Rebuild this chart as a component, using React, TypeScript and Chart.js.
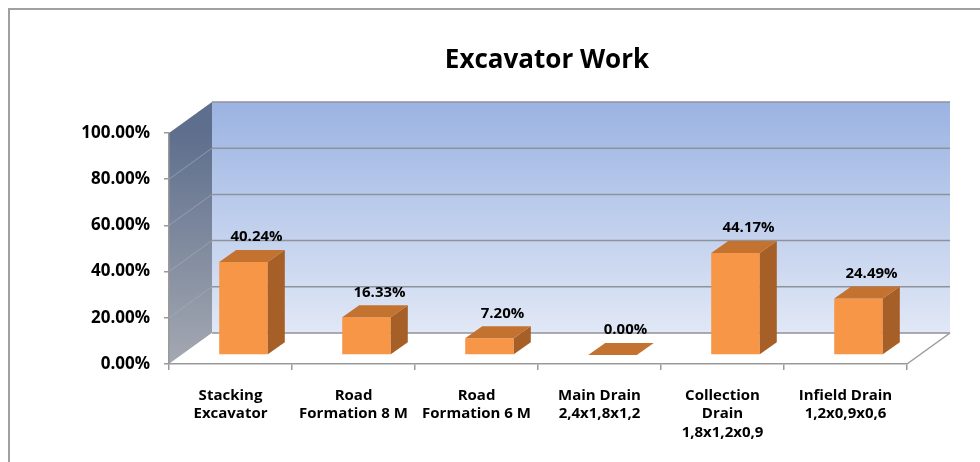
import { useEffect, useRef } from 'react';
import { Chart, registerables } from 'chart.js';

Chart.register(...registerables);

// ---- data ----
const titleText = 'Excavator Work';
const categories: string[][] = [
  ['Stacking', 'Excavator'],
  ['Road', 'Formation 8 M'],
  ['Road', 'Formation 6 M'],
  ['Main Drain', '2,4x1,8x1,2'],
  ['Collection', 'Drain', '1,8x1,2x0,9'],
  ['Infield Drain', '1,2x0,9x0,6'],
];
const values: number[] = [40.24, 16.33, 7.2, 0.0, 44.17, 24.49];
const yTicks: number[] = [0, 20, 40, 60, 80, 100];

// ---- geometry / style ----
const W = 980;
const H = 462;
const FONT = '"Open Sans", Lato, sans-serif';
const WALL_DX = 43;
const WALL_DY = -31;
const BAR_DX = 13; // front plane of bars relative to front axis
const BAR_DY = -9;
const DEPTH_DX = 17; // bar depth
const DEPTH_DY = -12;
const GRID = '#8e939b';
const AXIS = '#9a9a9a';

const scene3d = {
  id: 'scene3d',
  beforeDraw(chart: any) {
    const { ctx, chartArea: a, scales } = chart;
    const y = scales.y;
    const y0 = y.getPixelForValue(0);
    const y1 = y.getPixelForValue(100);
    ctx.save();
    // outer frame
    ctx.strokeStyle = '#a0a0a0';
    ctx.lineWidth = 2;
    ctx.beginPath();
    ctx.moveTo(9, H);
    ctx.lineTo(9, 9);
    ctx.lineTo(W, 9);
    ctx.stroke();

    // back wall
    const bl = a.left + WALL_DX;
    const br = a.right + WALL_DX;
    const bt = y1 + WALL_DY;
    const bb = y0 + WALL_DY;
    const gb = ctx.createLinearGradient(0, bt, 0, bb);
    gb.addColorStop(0, '#9bb3e2');
    gb.addColorStop(1, '#e1e8f6');
    ctx.fillStyle = gb;
    ctx.fillRect(bl, bt, br - bl, bb - bt);

    // side wall
    const gs = ctx.createLinearGradient(0, y1, 0, y0);
    gs.addColorStop(0, '#5e6f8d');
    gs.addColorStop(1, '#a4a8b1');
    ctx.fillStyle = gs;
    ctx.beginPath();
    ctx.moveTo(a.left, y0);
    ctx.lineTo(a.left, y1);
    ctx.lineTo(bl, bt);
    ctx.lineTo(bl, bb);
    ctx.closePath();
    ctx.fill();

    // floor
    ctx.fillStyle = '#ffffff';
    ctx.beginPath();
    ctx.moveTo(a.left, y0);
    ctx.lineTo(a.right, y0);
    ctx.lineTo(br, bb);
    ctx.lineTo(bl, bb);
    ctx.closePath();
    ctx.fill();

    // grid lines on walls
    ctx.lineWidth = 1.5;
    yTicks.forEach((v) => {
      const py = y.getPixelForValue(v);
      ctx.strokeStyle = GRID;
      ctx.beginPath();
      ctx.moveTo(bl, py + WALL_DY);
      ctx.lineTo(br, py + WALL_DY);
      ctx.stroke();
      if (v > 0 && v < 100) {
        ctx.strokeStyle = 'rgba(170,176,186,0.6)';
        ctx.lineWidth = 1;
        ctx.beginPath();
        ctx.moveTo(a.left, py);
        ctx.lineTo(bl, py + WALL_DY);
        ctx.stroke();
        ctx.lineWidth = 1.5;
      }
    });
    // floor right edge
    ctx.strokeStyle = AXIS;
    ctx.beginPath();
    ctx.moveTo(a.right, y0);
    ctx.lineTo(br, bb);
    ctx.stroke();

    // title
    ctx.fillStyle = '#000';
    ctx.font = `bold 26px ${FONT}`;
    ctx.textAlign = 'center';
    ctx.textBaseline = 'alphabetic';
    ctx.fillText(titleText, 547, 68);
    ctx.restore();
  },
  beforeDatasetsDraw(chart: any) {
    chart.ctx.save();
    chart.ctx.translate(BAR_DX, BAR_DY);
  },
  afterDatasetsDraw(chart: any) {
    const ctx = chart.ctx;
    ctx.restore();
    const meta = chart.getDatasetMeta(0);
    ctx.save();
    meta.data.forEach((el: any, i: number) => {
      const w = el.width;
      const xl = el.x - w / 2 + BAR_DX;
      const xr = el.x + w / 2 + BAR_DX;
      const top = el.y + BAR_DY;
      const bot = el.base + BAR_DY;
      // side face
      if (bot - top > 0.5) {
        ctx.fillStyle = '#a65f27';
        ctx.beginPath();
        ctx.moveTo(xr, top);
        ctx.lineTo(xr + DEPTH_DX, top + DEPTH_DY);
        ctx.lineTo(xr + DEPTH_DX, bot + DEPTH_DY);
        ctx.lineTo(xr, bot);
        ctx.closePath();
        ctx.fill();
      }
      // top face
      ctx.fillStyle = '#c4722f';
      ctx.beginPath();
      ctx.moveTo(xl, top);
      ctx.lineTo(xr, top);
      ctx.lineTo(xr + DEPTH_DX, top + DEPTH_DY);
      ctx.lineTo(xl + DEPTH_DX, top + DEPTH_DY);
      ctx.closePath();
      ctx.fill();
      // label
      ctx.fillStyle = '#000';
      ctx.font = `bold 15px ${FONT}`;
      ctx.textAlign = 'center';
      ctx.textBaseline = 'middle';
      ctx.fillText(values[i].toFixed(2) + '%', el.x + BAR_DX + 13, top - 25);
    });
    ctx.restore();
  },
};

export default function App() {
  const ref = useRef<HTMLCanvasElement | null>(null);
  useEffect(() => {
    if (!ref.current) return;
    const chart = new Chart(ref.current, {
      type: 'bar',
      data: {
        labels: categories,
        datasets: [
          {
            data: values,
            backgroundColor: '#f79646',
            borderWidth: 0,
            categoryPercentage: 1,
            barPercentage: 0.395,
          },
        ],
      },
      options: {
        responsive: false,
        animation: false,
        events: [],
        devicePixelRatio: 1,
        layout: { padding: { top: 133, right: 73, left: 0, bottom: 0 } },
        plugins: {
          legend: { display: false },
          tooltip: { enabled: false },
          title: { display: false },
        },
        scales: {
          x: {
            grid: {
              display: true,
              offset: true,
              drawOnChartArea: false,
              drawTicks: true,
              tickLength: 6,
              color: AXIS,
              lineWidth: 1.5,
            },
            border: { display: true, color: AXIS, width: 1.5 },
            ticks: {
              color: '#000',
              font: { family: FONT, size: 15, weight: 'bold', lineHeight: 1.25 },
              padding: 16,
              maxRotation: 0,
              autoSkip: false,
            },
            afterFit: (s: any) => {
              s.height = 98;
            },
          },
          y: {
            min: 0,
            max: 100,
            afterBuildTicks: (s: any) => {
              s.ticks = yTicks.map((v) => ({ value: v }));
            },
            grid: {
              display: true,
              drawOnChartArea: false,
              drawTicks: true,
              tickLength: 5,
              color: AXIS,
              lineWidth: 1.5,
            },
            border: { display: true, color: AXIS, width: 1.5 },
            ticks: {
              color: '#000',
              font: { family: FONT, size: 17, weight: 'bold' },
              padding: 14,
              callback: (v: any) => Number(v).toFixed(2) + '%',
            },
            afterFit: (s: any) => {
              s.width = 169;
            },
          },
        },
      },
      plugins: [scene3d],
    });
    return () => chart.destroy();
  }, []);
  return (
    <div style={{ position: 'fixed', left: 0, top: 0, width: W, height: H, background: '#fff' }}>
      <canvas ref={ref} width={W} height={H} style={{ width: W, height: H, display: 'block' }} />
    </div>
  );
}
